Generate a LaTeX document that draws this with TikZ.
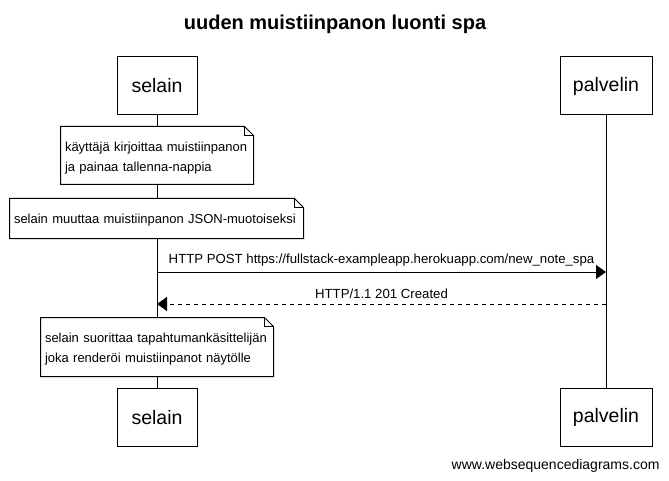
\documentclass[tikz,border=0pt]{standalone}
\usepackage{fontspec}
\setmainfont{Liberation Sans}
\usetikzlibrary{arrows.meta}
\begin{document}
\begin{tikzpicture}[x=1pt,y=-1pt,line width=1pt,
  actor/.style={draw,fill=white,minimum height=58pt,inner xsep=0pt,font=\fontsize{19.5}{22}\selectfont},
  notebox/.style={inner xsep=4pt,inner ysep=0pt,align=left,font=\fontsize{13}{20}\selectfont},
  msg/.style={-{Triangle[length=10pt,width=14pt]}},
  reply/.style={msg,dash pattern=on 4pt off 4pt},
  lbl/.style={font=\fontsize{13.2}{15}\selectfont,inner sep=0pt}]
\useasboundingbox (0,0) rectangle (669,481);
\fill[white] (0,0) rectangle (669,481);
\node[font=\bfseries\fontsize{20}{23}\selectfont] (title) at (335,24) {uuden muistiinpanon luonti spa};
% actors
\node[actor,minimum width=80pt] (s1) at (157,86) {selain};
\node[actor,minimum width=92pt] (p1) at (606,86) {palvelin};
\node[actor,minimum width=80pt] (s2) at (157,417.5) {selain};
\node[actor,minimum width=92pt] (p2) at (606,417.5) {palvelin};
% lifelines
\draw (s1.south) -- (s2.north);
\draw (p1.south) -- (p2.north);
% notes
\newcommand{\dognote}[1]{%
  \draw[fill=white] (#1.north west) -- ([xshift=-9pt]#1.north east) -- ([yshift=-9pt]#1.north east) -- (#1.south east) -- (#1.south west) -- cycle;
  \draw ([xshift=-9pt]#1.north east) -- ([xshift=-9pt,yshift=-9pt]#1.north east) -- ([yshift=-9pt]#1.north east);}
\coordinate (c1) at (157,155.5);
\coordinate (c2) at (156.5,218.5);
\coordinate (c3) at (157,347);
\node[notebox,text width=184pt,minimum height=57pt] (n1) at (c1) {};
\dognote{n1}
\node[notebox,text width=184pt,minimum height=57pt,yshift=-2.5pt] (t1) at (c1) {käyttäjä kirjoittaa muistiinpanon\\ja painaa tallenna-nappia};
\node[notebox,text width=285pt,minimum height=39pt] (n2) at (c2) {};
\dognote{n2}
\node[notebox,text width=285pt,minimum height=39pt,yshift=-2pt] (t2) at (c2) {selain muuttaa muistiinpanon JSON-muotoiseksi};
\node[notebox,text width=224pt,minimum height=58pt] (n3) at (c3) {};
\dognote{n3}
\node[notebox,text width=224pt,minimum height=58pt,yshift=-2.5pt] (t3) at (c3) {selain suorittaa tapahtumankäsittelijän\\joka renderöi muistiinpanot näytölle};
% messages
\coordinate (m1s) at (157,272);
\coordinate (m1e) at (606,272);
\coordinate (m2s) at (606,304);
\coordinate (m2e) at (157,304);
\draw[msg] (m1s) -- (m1e) node[lbl,midway,above=5pt] (l1) {HTTP POST https://fullstack-exampleapp.herokuapp.com/new\_note\_spa};
\draw[reply] (m2s) -- (m2e) node[lbl,midway,above=5pt] (l2) {HTTP/1.1 201 Created};
% footer
\node[anchor=east,font=\fontsize{14}{16}\selectfont,inner sep=0pt] (footer) at (660,466) {www.websequencediagrams.com};
\end{tikzpicture}
\end{document}
